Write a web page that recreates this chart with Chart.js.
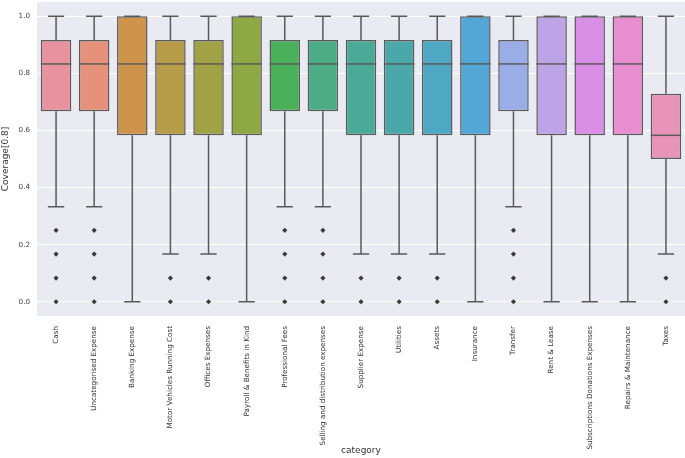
<!DOCTYPE html>
<html>
<head>
<meta charset="utf-8">
<script src="https://cdn.jsdelivr.net/npm/chart.js@4"></script>
<style>
html,body{margin:0;padding:0;background:#fff;}
#wrap{width:685px;height:458px;}
</style>
</head>
<body>
<div id="wrap"><canvas id="boxChart" width="685" height="458"></canvas></div>
<script>
const categories=["Cash","Uncategorised Expense","Banking Expense","Motor Vehicles Running Cost","Offices Expenses","Payroll & Benefits in Kind","Professional Fees","Selling and distribution expenses","Supplier Expense","Utilities","Assets","Insurance","Transfer","Rent & Lease","Subscriptions Donations Expenses","Repairs & Maintenance","Taxes"];
const q1=[0.667,0.667,0.583,0.583,0.583,0.583,0.667,0.667,0.583,0.583,0.583,0.583,0.667,0.583,0.583,0.583,0.5];
const medians=[0.833,0.833,0.833,0.833,0.833,0.833,0.833,0.833,0.833,0.833,0.833,0.833,0.833,0.833,0.833,0.833,0.583];
const q3=[0.917,0.917,1.0,0.917,0.917,1.0,0.917,0.917,0.917,0.917,0.917,1.0,0.917,1.0,1.0,1.0,0.729];
const whiskerLow=[0.333,0.333,0,0.167,0.167,0,0.333,0.333,0.167,0.167,0.167,0,0.333,0,0,0,0.167];
const whiskerHigh=[1,1,1,1,1,1,1,1,1,1,1,1,1,1,1,1,1];
const outliers=[
  [0.25,0.167,0.083,0],[0.25,0.167,0.083,0],[],[0.083,0],[0.083,0],[],
  [0.25,0.167,0.083,0],[0.25,0.167,0.083,0],[0.083,0],[0.083,0],[0.083,0],[],
  [0.25,0.167,0.083,0],[],[],[],[0.083,0]
];
const boxColors=["#e8919f","#e6927a","#cf944b","#b79d49","#a1a146","#8ea843","#4bb05a","#4bac85","#4aaa98","#4aa8a9","#4ea8c3","#52a7d7","#9aade6","#bda4e7","#da8fe6","#e78dd0","#e893b8"];
const yTicks=[0,0.2,0.4,0.6,0.8,1.0];

const lineGray="#5a5a5a";
const font="'DejaVu Sans', sans-serif";

const outlierPoints=[];
outliers.forEach((list,i)=>list.forEach(v=>outlierPoints.push({x:categories[i],y:v})));

const boxPlugin={
  id:"boxParts",
  beforeDatasetsDraw(chart){
    const ctx=chart.ctx, y=chart.scales.y, meta=chart.getDatasetMeta(0);
    ctx.save();
    ctx.strokeStyle=lineGray; ctx.lineWidth=1.5;
    meta.data.forEach((bar,i)=>{
      const cx=bar.x, half=bar.width/4+0.5;
      const yLo=y.getPixelForValue(whiskerLow[i]), yHi=y.getPixelForValue(whiskerHigh[i]);
      ctx.beginPath();
      ctx.moveTo(cx,y.getPixelForValue(q3[i])); ctx.lineTo(cx,yHi);
      ctx.moveTo(cx,y.getPixelForValue(q1[i])); ctx.lineTo(cx,yLo);
      ctx.moveTo(cx-half,yHi); ctx.lineTo(cx+half,yHi);
      ctx.moveTo(cx-half,yLo); ctx.lineTo(cx+half,yLo);
      ctx.stroke();
    });
    ctx.restore();
  },
  afterDatasetDraw(chart,args){
    if(args.index!==0) return;
    const ctx=chart.ctx, y=chart.scales.y, meta=chart.getDatasetMeta(0);
    ctx.save();
    ctx.strokeStyle=lineGray; ctx.lineWidth=1.5;
    meta.data.forEach((bar,i)=>{
      const my=y.getPixelForValue(medians[i]);
      ctx.beginPath();
      ctx.moveTo(bar.x-bar.width/2,my); ctx.lineTo(bar.x+bar.width/2,my);
      ctx.stroke();
    });
    ctx.restore();
  }
};

const bgPlugin={
  id:"plotBg",
  beforeDraw(chart){
    const a=chart.chartArea, ctx=chart.ctx;
    ctx.save(); ctx.fillStyle="#eaeaf2";
    ctx.fillRect(a.left,a.top,a.right-a.left,a.bottom-a.top);
    ctx.restore();
  }
};

new Chart(document.getElementById("boxChart").getContext("2d"),{
  type:"bar",
  data:{
    labels:categories,
    datasets:[
      {type:"bar",data:categories.map((_,i)=>[q1[i],q3[i]]),backgroundColor:boxColors,borderColor:lineGray,borderWidth:1.5,borderSkipped:false,barPercentage:0.8,categoryPercentage:1.0,order:2},
      {type:"scatter",data:outlierPoints,pointStyle:"rectRot",pointRadius:2.6,backgroundColor:"#3a3a3a",borderColor:"#3a3a3a",borderWidth:0,order:1}
    ]
  },
  options:{
    responsive:false,animation:false,
    layout:{autoPadding:false,padding:{top:2,right:0,left:0,bottom:0}},
    plugins:{legend:{display:false},tooltip:{enabled:false}},
    scales:{
      x:{
        type:"category",offset:true,
        grid:{display:false},border:{display:false},
        ticks:{minRotation:90,maxRotation:90,autoSkip:false,padding:2,color:"#333",font:{family:font,size:7.2}},
        title:{display:true,text:"category",color:"#333",font:{family:font,size:9},padding:{top:0,bottom:2}},
        afterFit(s){s.height=142;s.paddingLeft=0;s.paddingRight=0;}
      },
      y:{
        min:-0.05,max:1.05,
        afterBuildTicks(s){s.ticks=yTicks.map(v=>({value:v}));},
        grid:{color:"#ffffff",lineWidth:1,drawTicks:false},border:{display:false},
        ticks:{padding:7,color:"#444",font:{family:font,size:7.2},callback:v=>v.toFixed(1)},
        title:{display:true,text:"Coverage[0.8]",color:"#333",font:{family:font,size:9},padding:{top:0,bottom:0}},
        afterFit(s){s.width=37;s.paddingTop=0;s.paddingBottom=0;}
      }
    }
  },
  plugins:[bgPlugin,boxPlugin]
});
</script>
</body>
</html>
